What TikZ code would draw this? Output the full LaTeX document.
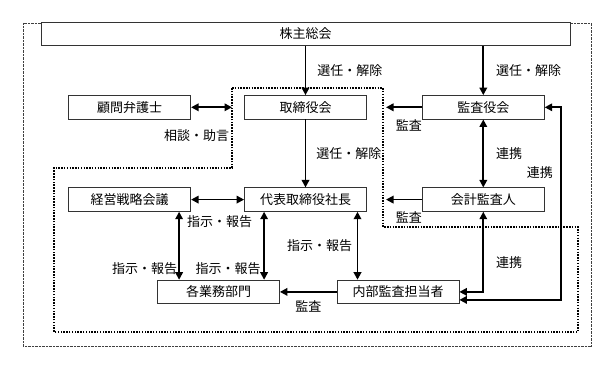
\documentclass[tikz,border=0pt]{standalone}
\usepackage{fontspec}
\setmainfont{Noto Sans CJK JP}
\usepackage{tikz}
\usetikzlibrary{arrows.meta, positioning}

\begin{document}
\begin{tikzpicture}[x=1pt, y=-1pt, node distance=68pt and 54pt, >={Triangle[length=7.5pt, width=7.5pt]}]
    \tikzstyle{unit} = [rectangle, draw=black!80, fill=white, line width=0.8pt, minimum width=122pt, minimum height=23.5pt, inner sep=0pt, font=\fontsize{13pt}{15pt}\selectfont]
    \tikzstyle{lbl} = [inner sep=0pt, font=\fontsize{13pt}{15pt}\selectfont]
    \tikzstyle{link} = [line width=1.8pt]
    \useasboundingbox (0,0) rectangle (614,371);

    % Outer frame and the dotted board line
    \draw[line width=0.6pt, dash pattern=on 0.7pt off 0.7pt, black!75] (23,23) rectangle (591,346);
    \coordinate (b1) at (232,88);
    \coordinate (b2) at (383,227);
    \draw[line width=1.5pt, dash pattern=on 1.5pt off 1.3pt] (b1) -- (b1 -| b2) -- (b2) -- (578,227) -- (578,332) -- (54,332) -- (54,168) -- (232,168) -- cycle;

    % Nodes
    \node (soukai) [unit, minimum width=529pt] at (305.5,34) {株主総会};
    \node (torishimari) [unit, below=49pt of soukai] {取締役会};
    \node (komon) [unit, left=53pt of torishimari] {顧問弁護士};
    \node (kansayaku) [unit, right=55pt of torishimari] {監査役会};
    \node (daihyo) [unit, below=68pt of torishimari] {代表取締役社長};
    \node (senryaku) [unit, left=53pt of daihyo] {経営戦略会議};
    \node (kaikei) [unit, right=55pt of daihyo] {会計監査人};
    \node (bumon) [unit, below=68pt of daihyo, xshift=-87pt] {各業務部門};
    \node (naibu) [unit, below=68pt of daihyo, xshift=92.5pt] {内部監査担当者};

    % Connections
    \draw[->, link] (soukai.south -| torishimari) -- node[right=11pt, lbl] {選任・解除} (torishimari);
    \draw[->, link] (soukai.south -| kansayaku) -- node[right=12pt, lbl] {選任・解除} (kansayaku);
    \draw[<->, link] (komon) -- (komon -| b1) node[below left=21.5pt and 2pt, lbl] {相談・助言};
    \draw[->, link] (torishimari) -- node[right=10pt, lbl] {選任・解除} (daihyo);
    \draw[->, link] (kansayaku) -- ([xshift=3pt]kansayaku -| b2) node[below right=11.5pt and 9pt, lbl] {監査};
    \draw[<->, link] (kansayaku) -- node[right=12pt, lbl] {連携} (kaikei);
    \draw[->, link] (kaikei) -- ([xshift=3pt]kaikei -| b2) node[below right=11.5pt and 9pt, lbl] {監査};
    \draw[<->, link] (senryaku) -- (daihyo);

    % Orders and reports
    \draw[<->, link] ([xshift=-12pt]senryaku.south east) -- ([xshift=-12pt]senryaku.south east |- bumon.north) node[pos=0.84, left=1pt, lbl] {指示・報告} node[pos=0.15, right=7pt, lbl] {指示・報告};
    \draw[<->, link] ([xshift=20pt]daihyo.south west) -- ([xshift=20pt]daihyo.south west |- bumon.north) node[pos=0.84, left=2.5pt, lbl] {指示・報告};
    \draw[<->, link] ([xshift=52pt]daihyo.south) -- ([xshift=52pt]daihyo.south |- naibu.north) node[midway, left=4.5pt, lbl] {指示・報告};
    \draw[->, link] (naibu) -- node[below=8pt, lbl] {監査} (bumon);

    % Audit links
    \draw[<->, link] (kaikei) |- node[pos=0.32, right=12pt, lbl] {連携} (naibu);
    \draw[<->, link] ([yshift=-8pt]naibu.east) -| ([xshift=16pt]kansayaku.east) node[pos=0.83, left=7pt, lbl] {連携} -- (kansayaku.east);
\end{tikzpicture}
\end{document}
